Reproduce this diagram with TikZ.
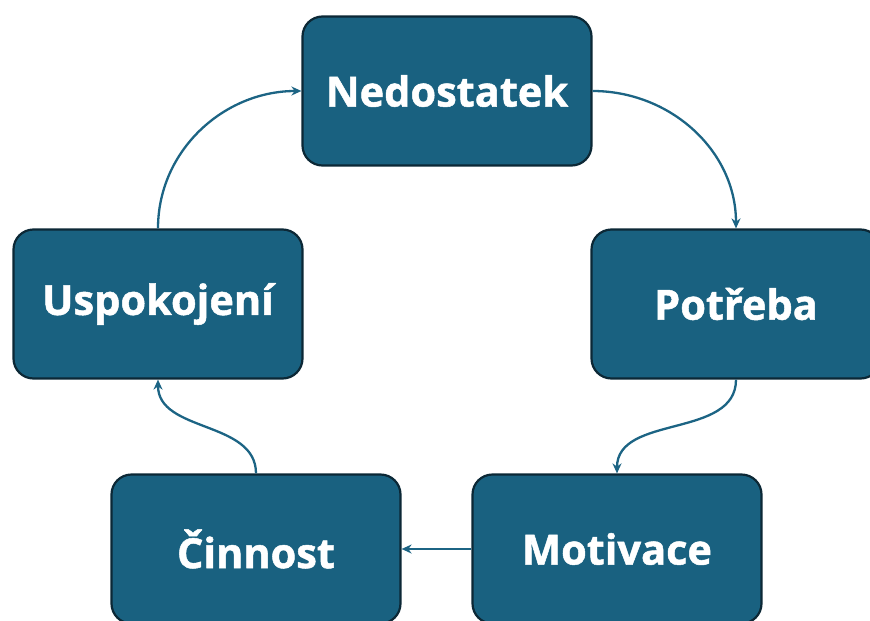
\documentclass[tikz,border=0pt]{standalone}
\usepackage{fontspec}
\setmainfont{Open Sans}[BoldFeatures={FakeBold=1.2}]
\usetikzlibrary{arrows.meta}
\definecolor{boxfill}{RGB}{25,97,128}
\definecolor{boxline}{RGB}{12,40,54}
\definecolor{arrowcol}{RGB}{28,100,132}
\begin{document}
\begin{tikzpicture}[x=1pt,y=-1pt,
  stepbox/.style={draw=boxline, line width=2.2pt, fill=boxfill, rounded corners=20pt,
    minimum width=289pt, minimum height=149pt, inner sep=0pt,
    text=white, font=\fontsize{41.5}{44}\selectfont\bfseries},
  conn/.style={draw=arrowcol, line width=2.3pt, -{Stealth[length=10pt,width=9pt]}}]
\useasboundingbox (0,0) rectangle (870,621);
\fill[white] (0,0) rectangle (870,621);
\node[stepbox] (ned) at (447,91) {Nedostatek};
\node[stepbox] (pot) at (736,304) {Potřeba};
\node[stepbox] (mot) at (617,549) {Motivace};
\node[stepbox] (cin) at (256,549) {Činnost};
\node[stepbox] (usp) at (158,304) {Uspokojení};
\draw[conn] (ned.east) to[out=0,in=90] (pot.north);
\draw[conn] (pot.south) to[out=-90,in=90] (mot.north);
\draw[conn] (mot.west) -- (cin.east);
\draw[conn] (cin.north) to[out=90,in=-90] (usp.south);
\draw[conn] (usp.north) to[out=90,in=180] (ned.west);
\end{tikzpicture}
\end{document}
